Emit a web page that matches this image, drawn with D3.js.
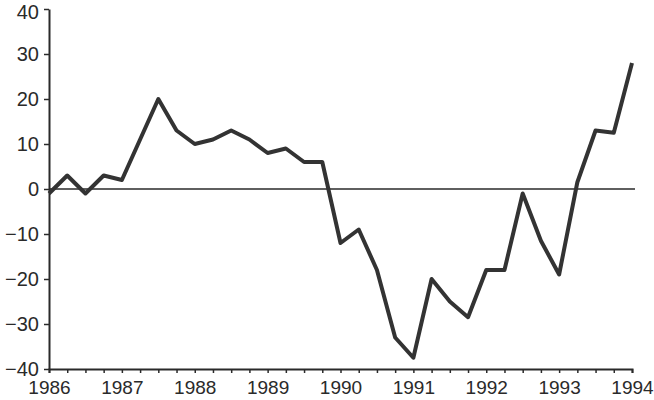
<!DOCTYPE html>
<html>
<head>
<meta charset="utf-8">
<script src="https://cdn.jsdelivr.net/npm/d3@7/dist/d3.min.js"></script>
<style>
  body { margin: 0; background: #fff; }
  svg text { font-family: "Liberation Sans", Arial, sans-serif; fill: #2a2a2a; }
</style>
</head>
<body>
<svg id="chart"></svg>
<script>
// quarterly observations, 1986 Q1 .. 1994 Q1
var startYear = 1986;
var values = [
  -1, 3, -1, 3,
  2, 11, 20, 13,
  10, 11, 13, 11,
  8, 9, 6, 6,
  -12, -9, -18, -33,
  -37.5, -20, -25, -28.5,
  -18, -18, -1, -11.5,
  -19, 1.5, 13, 12.5,
  28
];
var yearTicks = [1986, 1987, 1988, 1989, 1990, 1991, 1992, 1993, 1994];
var yTicks = [-40, -30, -20, -10, 0, 10, 20, 30, 40];

var width = 654, height = 400;
var margin = { top: 9, right: 22, bottom: 30, left: 49 };

var svg = d3.select("#chart")
    .attr("width", width)
    .attr("height", height);

var data = values.map(function(v, i) {
    return { t: startYear + i / 4, v: v };
});

var x = d3.scaleLinear()
    .domain([1986, 1994])
    .range([margin.left, width - margin.right]);

var y = d3.scaleLinear()
    .domain([-40, 40])
    .range([height - margin.bottom - 1, margin.top]);

var quarterTicks = d3.range(0, 33).map(function(i) { return 1986 + i / 4; });

// x axis: quarter ticks, year labels
var xAxis = d3.axisBottom(x)
    .tickValues(quarterTicks)
    .tickSize(4)
    .tickFormat(function(d) {
        return yearTicks.indexOf(d) >= 0 ? d : "";
    });

var gx = svg.append("g")
    .attr("transform", "translate(0," + y(-40) + ")")
    .call(xAxis);
gx.select(".domain").attr("stroke", "#2a2a2a").attr("stroke-width", 2);
gx.selectAll(".tick line").attr("stroke", "#2a2a2a").attr("stroke-width", 1.5);
gx.selectAll(".tick text")
    .attr("font-size", 19)
    .attr("y", 12);

// y axis
var yAxis = d3.axisLeft(y)
    .tickValues(yTicks)
    .tickSize(5)
    .tickSizeOuter(0)
    .tickFormat(function(d) { return d < 0 ? "\u2212" + Math.abs(d) : d; });

var gy = svg.append("g")
    .attr("transform", "translate(" + x(1986) + ",0)")
    .call(yAxis);
gy.select(".domain").attr("stroke", "#2a2a2a").attr("stroke-width", 2);
gy.selectAll(".tick line").attr("stroke", "#2a2a2a").attr("stroke-width", 1.5);
gy.selectAll(".tick text")
    .attr("font-size", 20)
    .attr("x", -10)
    .attr("dy", function(d) { return d === 40 ? "0.45em" : "0.32em"; });

// zero line
svg.append("line")
    .attr("x1", x(1986))
    .attr("x2", x(1994) + 3)
    .attr("y1", y(0))
    .attr("y2", y(0))
    .attr("stroke", "#2a2a2a")
    .attr("stroke-width", 1.5);

var line = d3.line()
    .x(function(d) { return x(d.t); })
    .y(function(d) { return y(d.v); });

svg.append("path")
    .datum(data)
    .attr("fill", "none")
    .attr("stroke", "#333")
    .attr("stroke-width", 4)
    .attr("stroke-linejoin", "round")
    .attr("d", line);
</script>
</body>
</html>
